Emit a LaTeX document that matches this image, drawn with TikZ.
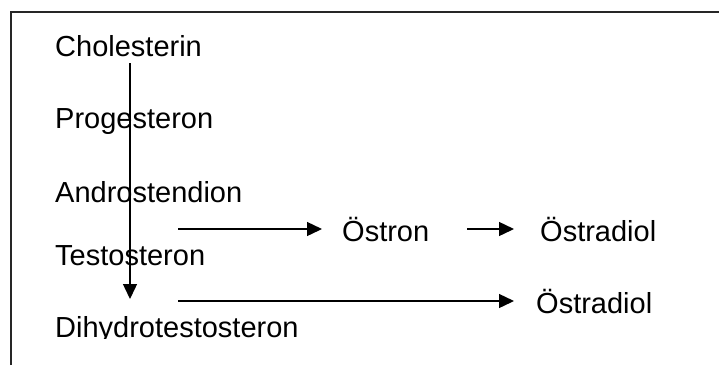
\documentclass[tikz,border=0pt]{standalone}
\usepackage{fontspec}
\setmainfont{Liberation Sans}
\usetikzlibrary{arrows.meta}
\begin{document}
\begin{tikzpicture}[x=1pt,y=-1pt,
  lbl/.style={anchor=base west,inner sep=0pt,font=\fontsize{29}{34}\selectfont},
  arr/.style={line width=1.4pt,-{Triangle[length=15pt,width=14pt]}},
  frame/.style={line width=1.8pt,black!85}]
\useasboundingbox (0,0) rectangle (719,365);
\draw[frame] (11,365) -- (11,12) -- (719,12);
\node[lbl] (chol) at (55,56) {Cholesterin};
\node[lbl] (prog) at (55,128) {Progesteron};
\node[lbl] (andro) at (55,202) {Androstendion};
\node[lbl] (testo) at (55,265) {Testosteron};
\begin{scope}
\clip (0,0) rectangle (719,338);
\node[lbl] (dht) at (55,337) {Dihydrotestosteron};
\end{scope}
\node[lbl] (oestron) at (342,241) {Östron};
\node[lbl] (oestradA) at (540,241) {Östradiol};
\node[lbl] (oestradB) at (536,313) {Östradiol};
\coordinate (vtop) at (130,63);
\coordinate (vbot) at (130,299);
\coordinate (h1) at (178,229);
\coordinate (h3) at (178,301);
\draw[arr] (vtop) -- (vbot);
\draw[arr] (h1) -- ([xshift=-20pt]oestron.west |- h1);
\draw[arr] ([xshift=38pt]oestron.east |- h1) -- ([xshift=-26pt]oestradA.west |- h1);
\draw[arr] (h3) -- ([xshift=-22pt]oestradB.west |- h3);
\end{tikzpicture}
\end{document}
